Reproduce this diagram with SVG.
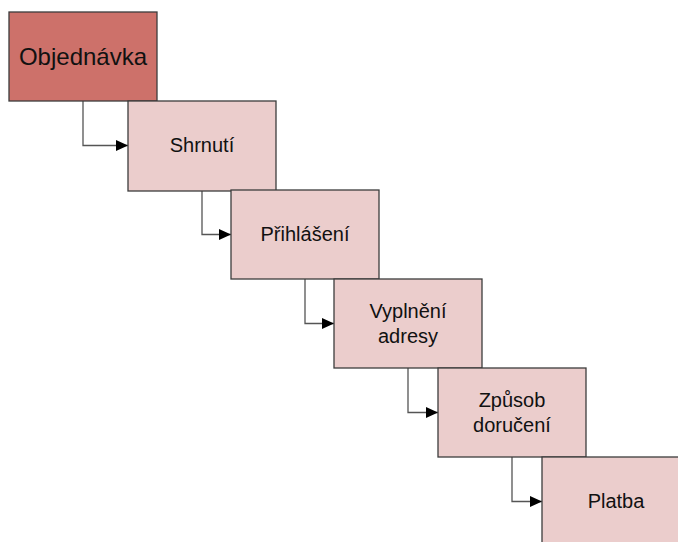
<svg xmlns="http://www.w3.org/2000/svg" width="678" height="542" viewBox="0 0 678 542">
  <style>
    .box { fill: #EBCDCC; stroke: #3C3C3C; stroke-width: 1.3; }
    .box.start { fill: #CD716A; }
    .lbl { font-family: "Liberation Sans", Arial, sans-serif; font-size: 20px; fill: #111; text-anchor: middle; }
    .lbl.big { font-size: 24px; }
    .conn { fill: none; stroke: #555; stroke-width: 1.3; marker-end: url(#arrow); }
  </style>
  <defs>
    <marker id="arrow" viewBox="0 0 12 11" refX="12" refY="5.5" markerWidth="12" markerHeight="11" markerUnits="userSpaceOnUse" orient="auto">
      <path d="M0,0 L12,5.5 L0,11 Z" fill="#000"/>
    </marker>
  </defs>
  <rect width="678" height="542" fill="#fff"/>

  <!-- steps: elbow connectors from each box's bottom centre to the next box's left side -->
  <g id="connectors">
    <path class="conn" d="M83,101 V145.5 H128"/>
    <path class="conn" d="M202,191 V234.5 H231"/>
    <path class="conn" d="M305,279 V323.5 H334"/>
    <path class="conn" d="M408,368 V412.5 H438"/>
    <path class="conn" d="M512,457 V501.5 H542"/>
  </g>

  <g id="objednavka">
    <rect class="box start" x="9" y="12" width="148" height="89"/>
    <text class="lbl big" x="83" y="65">Objednávka</text>
  </g>
  <g id="shrnuti">
    <rect class="box" x="128" y="101" width="148" height="90"/>
    <text class="lbl" x="202" y="152">Shrnutí</text>
  </g>
  <g id="prihlaseni">
    <rect class="box" x="231" y="190" width="148" height="89"/>
    <text class="lbl" x="305" y="241">Přihlášení</text>
  </g>
  <g id="vyplneni-adresy">
    <rect class="box" x="334" y="279" width="148" height="89"/>
    <text class="lbl" x="408" y="318">Vyplnění</text>
    <text class="lbl" x="408" y="343">adresy</text>
  </g>
  <g id="zpusob-doruceni">
    <rect class="box" x="438" y="368" width="148" height="89"/>
    <text class="lbl" x="512" y="407">Způsob</text>
    <text class="lbl" x="512" y="432">doručení</text>
  </g>
  <g id="platba">
    <rect class="box" x="542" y="457" width="148" height="89"/>
    <text class="lbl" x="616" y="508">Platba</text>
  </g>
</svg>
